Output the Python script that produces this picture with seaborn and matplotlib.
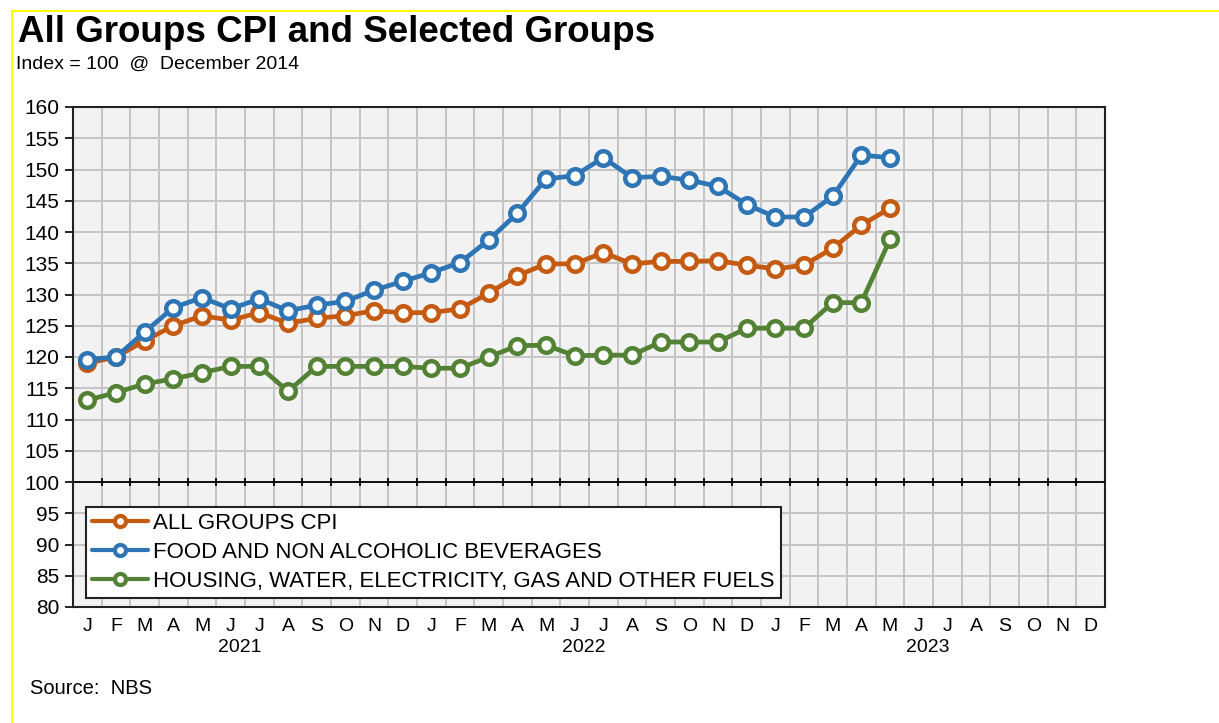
import numpy as np
import pandas as pd
import matplotlib
matplotlib.use("Agg")
import matplotlib.pyplot as plt
from matplotlib.lines import Line2D
import seaborn as sns

months = ["J", "F", "M", "A", "M", "J", "J", "A", "S", "O", "N", "D"] * 3
years = ["2021", "2022", "2023"]

all_groups = [119.0, 120.0, 122.6, 125.0, 126.6, 125.9, 127.1, 125.4, 126.2, 126.6, 127.4, 127.1,
              127.1, 127.7, 130.2, 133.0, 134.9, 134.9, 136.7, 134.9, 135.3, 135.3, 135.4, 134.7,
              134.1, 134.7, 137.4, 141.1, 143.8]
food = [119.6, 120.0, 124.0, 127.9, 129.5, 127.7, 129.3, 127.4, 128.3, 128.9, 130.7, 132.1,
        133.5, 135.1, 138.7, 143.0, 148.5, 149.0, 151.9, 148.7, 148.9, 148.3, 147.3, 144.4,
        142.4, 142.4, 145.7, 152.3, 151.9]
housing = [113.1, 114.3, 115.7, 116.5, 117.5, 118.5, 118.5, 114.5, 118.5, 118.5, 118.5, 118.5,
           118.2, 118.2, 120.0, 121.8, 121.9, 120.2, 120.3, 120.3, 122.4, 122.4, 122.4, 124.6,
           124.6, 124.6, 128.7, 128.7, 138.8]
series_names = ["ALL GROUPS CPI", "FOOD AND NON ALCOHOLIC BEVERAGES",
                "HOUSING, WATER, ELECTRICITY, GAS AND OTHER FUELS"]
colors = ["#C55A11", "#2E75B6", "#548235"]

n = len(all_groups)
pos = np.arange(n) + 0.5
df = pd.concat([
    pd.DataFrame({"pos": pos, "value": vals, "series": name})
    for name, vals in zip(series_names, [all_groups, food, housing])
])

sns.set_theme(style="white")
plt.rcParams["font.family"] = ["Liberation Sans", "DejaVu Sans"]

fig = plt.figure(figsize=(12.19, 7.23), dpi=100)
ax = fig.add_axes([73 / 1219, 1 - 607 / 723, (1105 - 73) / 1219, (607 - 107) / 723])
ax.set_facecolor("#F2F2F2")

sns.lineplot(data=df, x="pos", y="value", hue="series", palette=colors,
             hue_order=series_names, ax=ax, linewidth=3.4, marker="o",
             markersize=10.5, markerfacecolor="white", markeredgewidth=3.2,
             legend=False, zorder=5)
for line, c in zip(ax.get_lines(), colors):
    line.set_markeredgecolor(c)

ax.set_xlim(0, 36)
ax.set_ylim(80, 160)
ax.set_yticks(np.arange(80, 161, 5))
ax.set_xticks(np.arange(0, 37, 1))
ax.set_xticklabels([])
ax.set_xticks(np.arange(36) + 0.5, minor=True)
ax.set_xticklabels(months, minor=True)
ax.tick_params(axis="x", which="both", length=0, labelsize=14, pad=8, colors="black")
ax.tick_params(axis="y", which="major", length=6, width=1.2, direction="out",
               labelsize=15, pad=4, colors="black", left=True)
ax.grid(True, which="major", color="#C4C4C4", linewidth=1.4, zorder=0)
ax.set_axisbelow(True)
for s in ax.spines.values():
    s.set_color("#222222")
    s.set_linewidth(1.5)
ax.set_xlabel("")
ax.set_ylabel("")

# 100 baseline with ticks
ax.axhline(100, color="black", linewidth=1.3, zorder=3)
ax.vlines(np.arange(1, 36), 99.35, 100.65, color="black", linewidth=1.3, zorder=3)

# Year labels
for i, y in enumerate(years):
    ax.text(6 + 12 * i - 0.2, -0.065, y, transform=ax.get_xaxis_transform(),
            ha="center", va="top", fontsize=14, color="black")

# Legend
handles = [Line2D([0], [0], color=c, linewidth=3, marker="o", markersize=8,
                  markerfacecolor="white", markeredgecolor=c, markeredgewidth=3)
           for c in colors]
leg = ax.legend(handles, series_names, loc="upper left",
                bbox_to_anchor=(13 / 1032, (607 - 507) / 500), frameon=True,
                fancybox=False, edgecolor="#222222", facecolor="white",
                framealpha=1, fontsize=16, handlelength=2.5, handletextpad=0.25,
                borderpad=0.28, labelspacing=0.36, borderaxespad=0)
leg.get_frame().set_linewidth(1.5)
for t in leg.get_texts():
    t.set_color("black")

# Titles
fig.text(18 / 1219, 1 - 32 / 723, "All Groups CPI and Selected Groups", fontsize=26.5,
         fontweight="bold", ha="left", va="center", color="black")
fig.text(16 / 1219, 1 - 64 / 723, "Index = 100  @  December 2014", fontsize=14,
         ha="left", va="center", color="black")
fig.text(30 / 1219, 1 - 689 / 723, "Source:  NBS", fontsize=14.5,
         ha="left", va="center", color="black")

# Yellow border (top and left)
fig.add_artist(Line2D([12 / 1219, 1], [1 - 10.5 / 723, 1 - 10.5 / 723],
                      transform=fig.transFigure, color="yellow", linewidth=1.5))
fig.add_artist(Line2D([12 / 1219, 12 / 1219], [0, 1 - 10.5 / 723],
                      transform=fig.transFigure, color="yellow", linewidth=1.5))

fig.savefig("out.png", dpi=100, facecolor="white")
